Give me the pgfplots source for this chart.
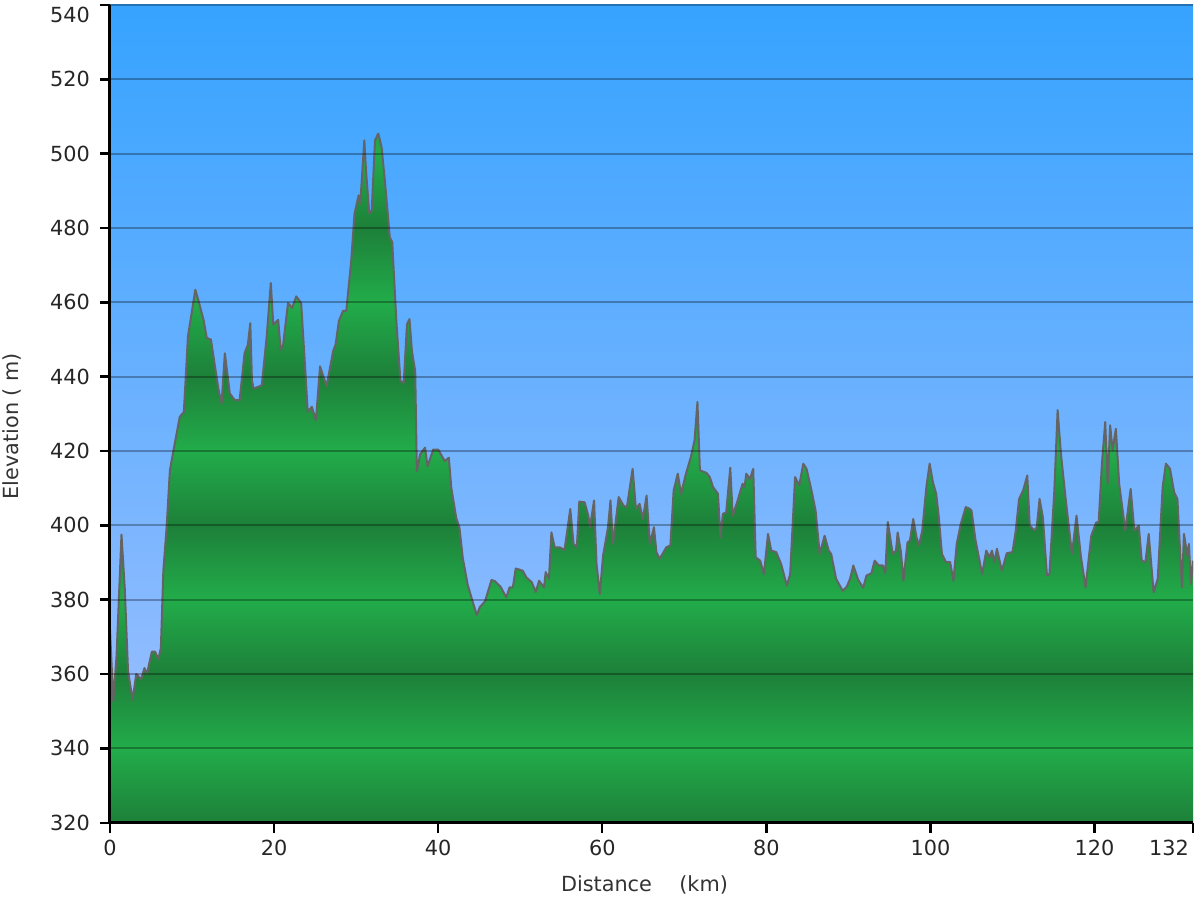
\documentclass[border=0pt]{standalone}
\usepackage{fontspec}
\setmainfont{DejaVu Sans}
\usepackage{pgfplots}
\usepackage{pgfplotstable}
\pgfplotsset{compat=1.18}

\definecolor{glight}{RGB}{34,172,74}
\definecolor{gdark}{RGB}{29,128,57}
\definecolor{skytop}{RGB}{54,163,255}
\definecolor{skybot}{RGB}{164,193,255}
\definecolor{outline}{RGB}{100,100,100}

% stripes every 40 m, mapped on the area's box 320..505.4 m (25bp..75bp)
\pgfdeclareverticalshading{terrain}{100bp}{%
  color(0bp)=(gdark); color(25bp)=(gdark);
  color(30.394bp)=(glight); color(35.787bp)=(gdark);
  color(41.181bp)=(glight); color(46.575bp)=(gdark);
  color(51.969bp)=(glight); color(57.362bp)=(gdark);
  color(62.756bp)=(glight); color(68.150bp)=(gdark);
  color(73.544bp)=(glight); color(78.937bp)=(gdark);
  color(84.331bp)=(glight); color(100bp)=(glight)}

% distance (km), elevation (m)
\pgfplotstableread{
km elev
0 372
0.4 352.6
0.8 365
1.4 397.5
1.8 383
2.2 360.8
2.75 353
3.2 360
3.8 358.6
4.2 361.6
4.5 360
5.1 366
5.5 366
5.9 364
6.2 367
6.5 387.7
6.9 399.5
7.3 414.8
7.7 419.7
8.5 429.2
9.0 430.5
9.5 450.8
10.4 463.4
10.8 460.3
11.4 455.3
11.8 450.4
12.3 450
12.8 442.7
13.2 436.8
13.6 432.8
14.0 446.3
14.6 435.5
15.2 433.7
15.8 433.7
16.4 446.3
16.8 448.6
17.1 454.4
17.3 439
17.5 436.8
18.1 437.3
18.5 437.7
19.1 450.8
19.6 465.2
19.9 454
20.5 455.3
20.8 447.2
21.1 448.6
21.7 459.8
22.2 458.5
22.7 461.6
23.3 459.8
23.8 441.8
24.1 430.5
24.6 431.9
25.1 428.3
25.6 442.8
26.4 437.5
27.2 446.9
27.5 448.7
27.9 455
28.4 457.7
28.8 457.7
29.4 471.2
29.8 483.8
30.3 488.8
30.5 486.5
31.0 503.6
31.2 495.5
31.6 484
31.9 484.7
32.3 503.6
32.7 505.4
33.1 501.8
33.5 492.8
34.1 477.5
34.4 476.2
34.9 455
35.4 438.8
35.8 438.4
36.2 454.1
36.5 455.5
36.8 446.9
37.2 441.5
37.4 414.6
37.8 419.1
38.4 420.9
38.7 415.9
39.4 420.4
40.0 420.4
40.8 417.3
41.3 418.2
41.6 410.1
42.2 402
42.6 399.3
43.0 391.2
43.6 384
44.2 379.5
44.7 375.9
45.1 378.1
45.7 379.5
46.5 385.3
46.9 385
47.6 383.5
48.3 380.6
48.7 383.3
49.1 383.3
49.45 388.4
50.3 387.8
50.75 386
51.4 384.7
51.9 382.1
52.3 385.1
52.9 383.3
53.1 387.4
53.5 385.6
53.8 398.1
54.2 394.1
54.8 394.1
55.4 393.4
56.1 404.4
56.5 395
56.9 394.1
57.2 406.4
57.85 406.2
58.3 402.6
58.5 399.5
59.0 406.7
59.3 389.6
59.7 381.5
60.1 391.9
60.7 399.5
61.0 406.7
61.3 395
62.0 407.6
62.6 405.3
63.0 404.9
63.7 415.2
64.1 404.4
64.55 405.8
64.95 401.7
65.4 408
65.8 395
66.3 399.5
66.6 392.8
67.0 391
67.8 394.1
68.3 394.6
68.7 409.4
69.2 413.9
69.6 408.5
70.2 413.9
70.8 418.4
71.25 422.9
71.6 433.2
71.9 414.8
72.7 414.1
73.1 413
73.5 410.3
74.1 408.5
74.4 396.8
74.7 403.1
75.1 403.5
75.6 415.5
75.9 402.6
76.5 406.7
77.1 411.2
77.35 410.3
77.55 413.9
78.0 412.5
78.4 415.2
78.7 391.4
79.25 390.5
79.7 386.9
80.2 397.7
80.6 393.2
81.2 392.8
81.8 389.6
82.5 383.8
82.9 386.9
83.5 413
84.0 410.7
84.5 416.6
84.9 415.2
85.5 409.4
86.0 404
86.5 392.3
87.1 397.2
87.6 393.2
87.9 392.3
88.5 385.6
89.3 382.4
89.8 383.5
90.2 385.6
90.6 389.2
91.2 385.3
91.8 383.2
92.2 386.5
92.8 387.1
93.2 390.5
93.7 389.2
94.2 389.2
94.5 387.1
94.8 400.9
95.4 392.3
95.8 393.2
96.0 398.1
96.4 392.8
96.7 385.1
97.2 395.4
97.5 395.9
97.9 401.7
98.3 396.8
98.6 394.6
99.0 398.6
99.5 410.3
99.9 416.6
100.3 411.6
100.7 408.5
101.0 402.6
101.4 392.3
101.9 390.1
102.4 390.1
102.8 385.1
103.2 395
103.7 400.4
104.3 404.9
104.75 404.5
105.0 404
105.5 395.9
106.3 386.9
106.8 393.2
107.2 391.4
107.5 393.2
107.8 390.1
108.1 393.7
108.7 387.8
109.3 392.5
110.0 392.8
110.4 398.6
110.8 407.1
111.3 409.4
111.8 413.4
112.1 399.9
112.7 398.6
112.95 399.5
113.3 407.1
113.7 402.2
114.2 386.5
114.5 386.9
115.1 409.4
115.5 431
115.9 419.3
116.5 406.7
117.25 392.3
117.8 402.6
118.35 391.4
118.9 383.3
119.6 397.2
120.2 400.8
120.5 400.8
120.9 416.6
121.3 427.8
121.6 411.2
121.9 426.9
122.2 420.2
122.6 426
123.0 411.2
123.75 398.6
124.4 409.8
124.85 398.6
125.4 399.9
125.75 390.5
126.2 390.1
126.6 397.7
127.2 382
127.7 385.6
128.3 410.3
128.7 416.6
129.2 415.2
129.7 408.9
130.1 407.1
130.65 383.3
130.9 397.7
131.3 391.9
131.5 395
131.75 384.2
132 390.5
}\elevation

\begin{document}
\begin{tikzpicture}
\begin{axis}[
    name=ax,
    scale only axis,
    width=541.5pt, height=408.85pt,
    xmin=0, xmax=132, ymin=320, ymax=540,
    axis x line*=bottom, axis y line*=left,
    axis line style={line width=1.5pt, black},
    xtick={0,20,40,60,80,100,120},
    extra x ticks={132},
    extra x tick style={xticklabel style={xshift=-12pt}},
    ytick={320,340,...,520},
    extra y ticks={540},
    extra y tick style={yticklabel style={yshift=-4.75pt}},
    yticklabel style={xshift=-1.5pt},
    tick style={black, line width=1.2pt},
    major tick length=5pt,
    tick align=outside,
    ymajorgrids,
    grid style={black, opacity=0.3, line width=0.9pt},
    axis on top,
    axis background/.style={top color=skytop, bottom color=skybot},
    /pgf/number format/assume math mode=true,
    ticklabel style={font=\fontsize{10.4}{12}\selectfont, text=black!85},
    xlabel={Distance\quad\ (km)},
    ylabel={Elevation\ (\ m)},
    label style={font=\fontsize{10.4}{12}\selectfont, text=black!80},
    xlabel style={at={(axis description cs:0.4935,-0.0762)}, anchor=center},
    ylabel style={at={(axis description cs:-0.0905,0.485)}, anchor=center},
]
\addplot[draw=none, shading=terrain] table[x=km, y=elev] {\elevation}
    -- (axis cs:132,320) -- (axis cs:0,320) -- cycle;
\addplot[draw=outline, line width=1pt, line join=round] table[x=km, y=elev] {\elevation};
\end{axis}
\pgfresetboundingbox
\path (ax.south west) ++(-55pt,-38.65pt) rectangle ++(600pt,450pt);
\end{tikzpicture}
\end{document}
